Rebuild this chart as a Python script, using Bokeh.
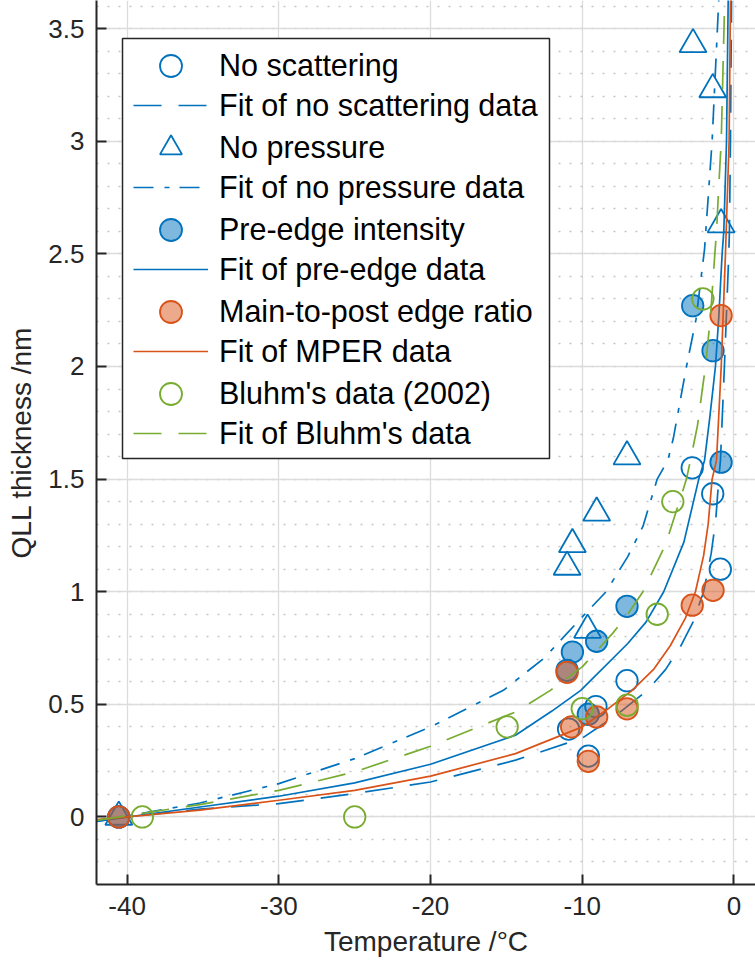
import numpy as np
from bokeh.plotting import figure
from bokeh.models import Legend, LegendItem, Range1d, FixedTicker, BoxAnnotation
from bokeh.embed import file_html
from bokeh.resources import INLINE

# ---------------- data ----------------
no_scat_T = [-40.55, -10.9, -9.6, -9.1, -7.05, -2.75, -1.4, -0.9]
no_scat_d = [0.0, 0.39, 0.27, 0.49, 0.605, 1.55, 1.435, 1.10]

no_press_T = [-40.55, -11.0, -10.65, -9.65, -9.05, -7.05, -2.7, -1.4, -0.85]
no_press_d = [0.0, 1.11, 1.21, 0.83, 1.35, 1.60, 3.43, 3.23, 2.63]

pre_T = [-40.55, -11.0, -10.65, -9.6, -9.05, -7.05, -2.72, -1.38, -0.85]
pre_d = [0.0, 0.651, 0.732, 0.456, 0.78, 0.935, 2.27, 2.07, 1.575]

mper_T = [-40.55, -11.0, -10.7, -9.6, -9.05, -7.05, -2.75, -1.38, -0.85]
mper_d = [0.0, 0.642, 0.40, 0.247, 0.444, 0.48, 0.94, 1.006, 2.226]

bluhm_T = [-39.0, -25.0, -14.95, -10.0, -7.04, -5.06, -4.03, -2.05]
bluhm_d = [0.0, 0.0, 0.40, 0.481, 0.496, 0.90, 1.40, 2.30]

fit_ns_T = [-42, -35.2, -30, -25, -20, -14.4, -10, -7.8, -5.7, -4.5, -3.5, -2.7, -2.0,
            -1.5, -1.2, -1.0, -0.89, -0.63, -0.34, -0.30, -0.23, -0.16]
fit_ns_d = [-0.015, 0.035, 0.059, 0.104, 0.155, 0.252, 0.35, 0.45, 0.562, 0.655, 0.76, 0.865, 1.0,
            1.17, 1.32, 1.5, 1.583, 2.0, 2.5, 2.6, 3.0, 3.63]

fit_np_T = [-42, -35.2, -30, -25, -20, -15.2, -12.5, -10, -8.43, -7.0, -6.0, -5.06, -4.36, -4.0,
            -3.13, -2.5, -1.94, -1.44, -1.0]
fit_np_d = [-0.02, 0.062, 0.148, 0.259, 0.40, 0.562, 0.706, 0.888, 1.0, 1.156, 1.29, 1.5, 1.583, 1.68,
            2.0, 2.21, 2.52, 3.0, 3.63]

fit_pre_T = [-42, -35.2, -30, -25, -20, -14.4, -12.0, -10.1, -7.0, -5.8, -4.63, -3.3, -2.32, -1.94,
             -1.6, -1.22, -1.0, -0.78, -0.67, -0.49, -0.38]
fit_pre_d = [-0.02, 0.044, 0.092, 0.151, 0.234, 0.363, 0.47, 0.562, 0.77, 0.865, 1.0, 1.22, 1.5, 1.583,
             1.77, 2.0, 2.22, 2.5, 2.6, 3.0, 3.63]

fit_mper_T = [-42, -35.2, -30, -25, -20, -14.4, -10, -8.2, -6.71, -5.3, -4.2, -3.2, -2.54, -2.0,
              -1.7, -1.44, -1.15, -0.84, -0.56, -0.32, -0.23]
fit_mper_d = [-0.012, 0.030, 0.074, 0.118, 0.181, 0.281, 0.40, 0.485, 0.562, 0.655, 0.76, 0.883, 1.0, 1.16,
              1.30, 1.5, 1.583, 2.0, 2.5, 3.0, 3.63]

fit_bl_T = [-42, -35.2, -30, -25, -20, -14.4, -12.1, -10, -8.0, -7.0, -6.0, -4.5, -3.13, -2.87,
            -2.4, -1.88, -1.55, -1.26, -1.15, -1.0, -0.84, -0.61]
fit_bl_d = [-0.015, 0.055, 0.118, 0.20, 0.314, 0.466, 0.562, 0.666, 0.815, 0.9, 1.0, 1.21, 1.5, 1.583,
            1.74, 2.0, 2.22, 2.5, 2.6, 2.8, 3.0, 3.63]

x_ticks = [-40, -30, -20, -10, 0]
x_tick_labels = ["-40", "-30", "-20", "-10", "0"]
y_ticks = [0, 0.5, 1, 1.5, 2, 2.5, 3, 3.5]
y_tick_labels = ["0", "0.5", "1", "1.5", "2", "2.5", "3", "3.5"]

labels = ["No scattering", "Fit of no scattering data", "No pressure",
          "Fit of no pressure data", "Pre-edge intensity", "Fit of pre-edge data",
          "Main-to-post edge ratio", "Fit of MPER data", "Bluhm's data (2002)",
          "Fit of Bluhm's data"]

BLUE = "#0072BD"
ORANGE = "#D95319"
GREEN = "#77AC30"
DARK = "#262626"
FONT = "Liberation Sans"

p = figure(width=755, height=972, x_range=Range1d(-42.02, 1.42),
           y_range=Range1d(-0.3, 3.625), output_backend="svg",
           toolbar_location=None, min_border_left=96, min_border_right=0,
           min_border_top=0, min_border_bottom=88)
p.outline_line_color = None
p.background_fill_color = "white"

# axes
p.xaxis.ticker = FixedTicker(ticks=x_ticks)
p.yaxis.ticker = FixedTicker(ticks=y_ticks,
                             minor_ticks=[round(v, 2) for v in np.arange(-0.3, 3.65, 0.1)])
p.xaxis.major_label_overrides = {t: l for t, l in zip(x_ticks, x_tick_labels)}
p.yaxis.major_label_overrides = {t: l for t, l in zip(y_ticks, y_tick_labels)}
for ax in (p.xaxis[0], p.yaxis[0]):
    ax.axis_line_color = DARK
    ax.axis_line_width = 2
    ax.major_tick_in = 10
    ax.major_tick_out = 0
    ax.major_tick_line_color = DARK
    ax.major_tick_line_width = 2
    ax.minor_tick_in = 0
    ax.minor_tick_out = 0
    ax.major_label_text_font = FONT
    ax.major_label_text_font_size = "26px"
    ax.major_label_text_color = DARK
    ax.major_label_standoff = 12
    ax.axis_label_text_font = FONT
    ax.axis_label_text_font_size = "28px"
    ax.axis_label_text_font_style = "normal"
    ax.axis_label_text_color = DARK
    ax.axis_label_standoff = 8
p.xaxis.axis_label = "Temperature /°C"
p.yaxis.axis_label = "QLL thickness /nm"

p.xgrid.grid_line_color = "#dcdcdc"
p.xgrid.grid_line_width = 1.3
p.ygrid.grid_line_color = "#dcdcdc"
p.ygrid.grid_line_width = 1.3
p.ygrid.minor_grid_line_color = "#c4c4c4"
p.ygrid.minor_grid_line_width = 1.5
p.ygrid.minor_grid_line_dash = "2 9"

MS = 21.5
LW = 1.8
FLW = 1.7

r0 = p.scatter(no_scat_T, no_scat_d, marker="circle", size=MS, fill_color=None,
               line_color=BLUE, line_width=LW)
r1 = p.line(fit_ns_T, fit_ns_d, line_color=BLUE, line_width=FLW, line_dash="28 17")
r2 = p.scatter(no_press_T, no_press_d, marker="triangle", size=27, fill_color=None,
               line_color=BLUE, line_width=LW)
r3 = p.line(fit_np_T, fit_np_d, line_color=BLUE, line_width=FLW, line_dash="20 11 5 10")
r4 = p.scatter(pre_T, pre_d, marker="circle", size=MS, fill_color=BLUE, fill_alpha=0.5,
               line_color=BLUE, line_width=LW)
r5 = p.line(fit_pre_T, fit_pre_d, line_color=BLUE, line_width=FLW)
r6 = p.scatter(mper_T, mper_d, marker="circle", size=MS, fill_color=ORANGE, fill_alpha=0.5,
               line_color=ORANGE, line_width=LW)
r7 = p.line(fit_mper_T, fit_mper_d, line_color=ORANGE, line_width=FLW)
r8 = p.scatter(bluhm_T, bluhm_d, marker="circle", size=MS, fill_color=None,
               line_color=GREEN, line_width=LW)
r9 = p.line(fit_bl_T, fit_bl_d, line_color=GREEN, line_width=FLW, line_dash="28 17")

# legend frame (canvas pixels)
box = BoxAnnotation(left=122, right=549, top=38, bottom=458,
                    left_units="canvas", right_units="canvas",
                    top_units="canvas", bottom_units="canvas",
                    fill_color="white", fill_alpha=1.0,
                    line_color=DARK, line_width=1.5, line_alpha=1.0)
p.add_layout(box)

rends = [r0, r1, r2, r3, r4, r5, r6, r7, r8, r9]


def make_legend(idx, loc, gh, spacing):
    lg = Legend(items=[LegendItem(label=labels[i], renderers=[rends[i]]) for i in idx],
                location=loc)
    lg.glyph_width = 75
    lg.glyph_height = gh
    lg.label_height = gh
    lg.spacing = spacing
    lg.padding = 0
    lg.margin = 0
    lg.label_standoff = 11
    lg.label_text_font = FONT
    lg.label_text_font_size = "30.5px"
    lg.label_text_color = "black"
    lg.border_line_color = None
    lg.background_fill_alpha = 0.0
    return lg


# marker entries (rows 1,3,5,7,9) and line entries (rows 2,4,6,8,10)
p.add_layout(make_legend([0, 2, 4, 6, 8], (37, 463), 55, 27), "center")
p.add_layout(make_legend([1, 3, 5, 7, 9], (37, 431), 40, 42), "center")

open("out.html", "w").write(file_html(p, INLINE))
